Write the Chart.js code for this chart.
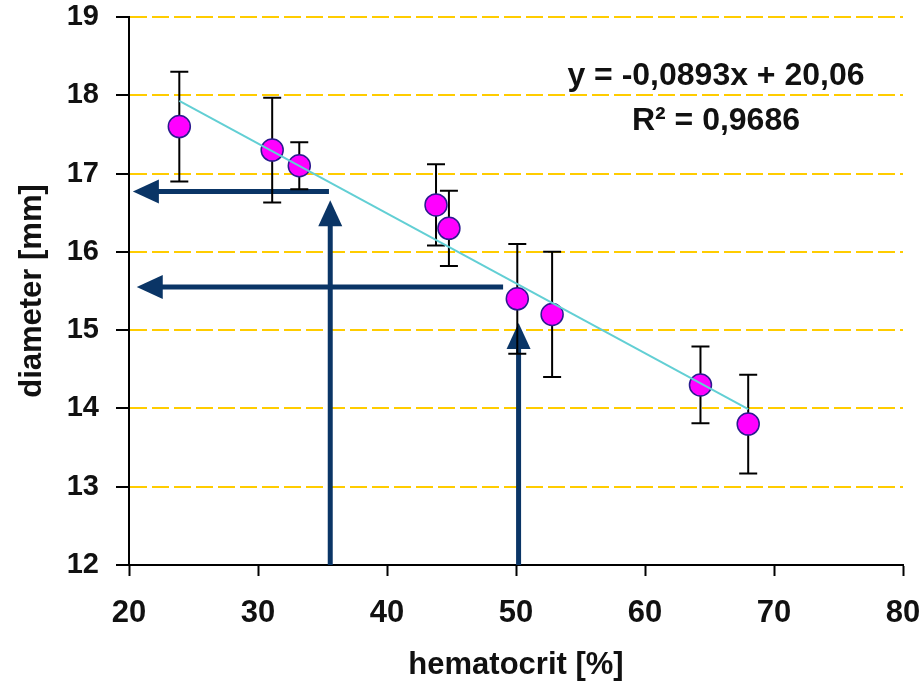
<!DOCTYPE html>
<html>
<head>
<meta charset="utf-8">
<title>diameter vs hematocrit</title>
<script src="https://cdn.jsdelivr.net/npm/chart.js@4.4.0/dist/chart.umd.min.js"></script>
<style>
  html, body { margin: 0; padding: 0; background: #fff; }
  #wrap { width: 921px; height: 684px; }
</style>
</head>
<body>
<div id="wrap"><canvas id="chart" width="921" height="684"></canvas></div>
<script>
// measured points (hematocrit %, diameter mm) and their error bars
const hematocrit = [23.9, 31.1, 33.2, 43.8, 44.8, 50.1, 52.8, 64.3, 68.0];
const diameter = [17.6, 17.3, 17.1, 16.6, 16.3, 15.4, 15.2, 14.3, 13.8];
const diameterError = [0.7, 0.67, 0.3, 0.52, 0.48, 0.7, 0.8, 0.49, 0.63];

// linear fit drawn between first and last sample
const trendX = [23.9, 68.0];
const trendY = [17.93, 13.99];
const equationText = ["y = -0,0893x + 20,06", "R\u00B2 = 0,9686"];

// read-off arrows: from (x, y) to tip (x, y)
const arrowFromX = [35.6, 35.5, 50.2, 49.0];
const arrowFromY = [12.0, 16.77, 12.0, 15.55];
const arrowToX = [35.6, 20.3, 50.2, 20.6];
const arrowToY = [16.66, 16.77, 15.09, 15.55];

const xTicks = [20, 30, 40, 50, 60, 70, 80];
const yTicks = [12, 13, 14, 15, 16, 17, 18, 19];

const FONT = "'Liberation Sans', Arial, sans-serif";
const ARROW_COLOR = "#0a3566";

const arrowPlugin = {
  id: "arrows",
  beforeDatasetsDraw(chart) {
    const { ctx, scales: { x, y } } = chart;
    const headLen = 26, headHalf = 12;
    ctx.save();
    ctx.strokeStyle = ARROW_COLOR;
    ctx.fillStyle = ARROW_COLOR;
    ctx.lineWidth = 5;
    arrowFromX.forEach((fx, i) => {
      const x1 = x.getPixelForValue(fx), y1 = y.getPixelForValue(arrowFromY[i]);
      const x2 = x.getPixelForValue(arrowToX[i]), y2 = y.getPixelForValue(arrowToY[i]);
      const ang = Math.atan2(y2 - y1, x2 - x1);
      const bx = x2 - Math.cos(ang) * headLen, by = y2 - Math.sin(ang) * headLen;
      ctx.beginPath();
      ctx.moveTo(x1, y1);
      ctx.lineTo(bx + Math.cos(ang) * 2, by + Math.sin(ang) * 2);
      ctx.stroke();
      ctx.beginPath();
      ctx.moveTo(x2, y2);
      ctx.lineTo(bx - Math.sin(ang) * headHalf, by + Math.cos(ang) * headHalf);
      ctx.lineTo(bx + Math.sin(ang) * headHalf, by - Math.cos(ang) * headHalf);
      ctx.closePath();
      ctx.fill();
    });
    ctx.restore();
  }
};

const errorBarPlugin = {
  id: "errorBars",
  beforeDatasetsDraw(chart) {
    const { ctx, scales: { x, y } } = chart;
    ctx.save();
    ctx.strokeStyle = "#000";
    ctx.lineWidth = 2;
    hematocrit.forEach((h, i) => {
      const px = x.getPixelForValue(h);
      const top = y.getPixelForValue(diameter[i] + diameterError[i]);
      const bot = y.getPixelForValue(diameter[i] - diameterError[i]);
      ctx.beginPath();
      ctx.moveTo(px, top); ctx.lineTo(px, bot);
      ctx.moveTo(px - 9, top); ctx.lineTo(px + 9, top);
      ctx.moveTo(px - 9, bot); ctx.lineTo(px + 9, bot);
      ctx.stroke();
    });
    ctx.restore();
  }
};

const equationPlugin = {
  id: "equation",
  afterDraw(chart) {
    const { ctx, scales: { x, y } } = chart;
    const cx = x.getPixelForValue(65.5);
    ctx.save();
    ctx.fillStyle = "#111";
    ctx.font = "bold 32px " + FONT;
    ctx.textAlign = "center";
    ctx.textBaseline = "alphabetic";
    ctx.fillText(equationText[0], cx, y.getPixelForValue(18.13));
    ctx.fillText(equationText[1], cx, y.getPixelForValue(17.56));
    ctx.restore();
  }
};

new Chart(document.getElementById("chart"), {
  type: "scatter",
  data: {
    datasets: [
      {
        label: "fit",
        data: trendX.map((v, i) => ({ x: v, y: trendY[i] })),
        showLine: true,
        borderColor: "#62cfd4",
        borderWidth: 2,
        pointRadius: 0,
        order: 0,
      },
      {
        label: "diameter",
        data: hematocrit.map((v, i) => ({ x: v, y: diameter[i] })),
        pointRadius: 11,
        pointBackgroundColor: "#ff00ff",
        pointBorderColor: "#2b1b8f",
        pointBorderWidth: 1.5,
        order: 1,
      },
    ],
  },
  options: {
    responsive: false,
    animation: false,
    devicePixelRatio: 1,
    layout: { padding: 0 },
    plugins: { legend: { display: false }, tooltip: { enabled: false } },
    scales: {
      x: {
        type: "linear",
        min: 20,
        max: 80,
        afterBuildTicks: (s) => { s.ticks = xTicks.map((v) => ({ value: v })); },
        afterFit: (s) => { s.height = 119; s.paddingLeft = 0; s.paddingRight = 18; },
        ticks: { color: "#111", padding: 19, font: { family: FONT, size: 31, weight: "bold" } },
        grid: { drawOnChartArea: false, drawTicks: true, tickLength: 11, tickColor: "#000", tickWidth: 2 },
        border: { display: true, color: "#000", width: 2 },
        title: { display: true, text: "hematocrit [%]", color: "#111", padding: { top: 0, bottom: 0 }, font: { family: FONT, size: 31, weight: "bold" } },
      },
      y: {
        type: "linear",
        min: 12,
        max: 19,
        afterBuildTicks: (s) => { s.ticks = yTicks.map((v) => ({ value: v })); },
        afterFit: (s) => { s.width = 129; s.paddingTop = 17; s.paddingBottom = 0; },
        ticks: { color: "#111", padding: 17, font: { family: FONT, size: 29, weight: "bold" } },
        grid: {
          color: (c) => (c.tick && c.tick.value === 12 ? "rgba(0,0,0,0)" : "#ffcc00"),
          lineWidth: 2,
          tickLength: 13,
          tickColor: "#000",
          tickWidth: 2,
        },
        border: { display: true, color: "#000", width: 2, dash: [17, 5] },
        title: { display: true, text: "diameter [mm]", color: "#111", padding: { top: 14, bottom: 14 }, font: { family: FONT, size: 31, weight: "bold" } },
      },
    },
  },
  plugins: [arrowPlugin, errorBarPlugin, equationPlugin],
});
</script>
</body>
</html>
